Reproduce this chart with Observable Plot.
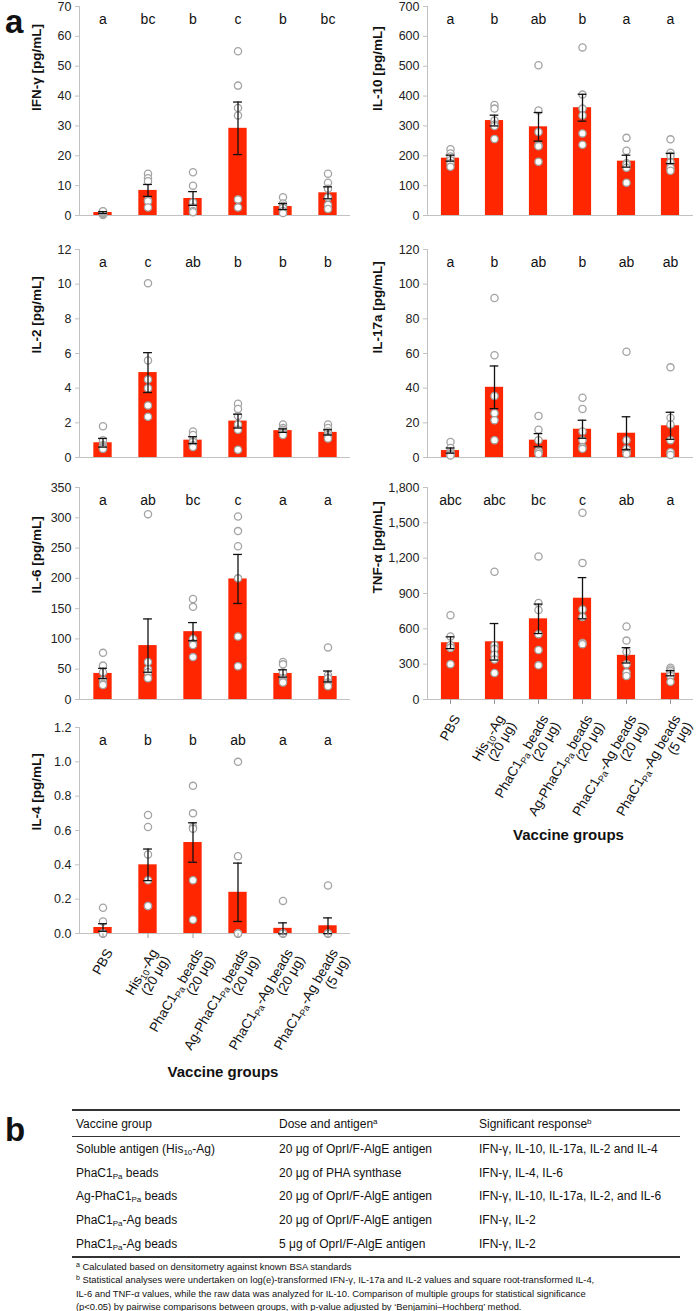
<!DOCTYPE html>
<html><head><meta charset="utf-8">
<script src="https://cdn.jsdelivr.net/npm/d3@7"></script>
<script src="https://cdn.jsdelivr.net/npm/@observablehq/plot@0.6"></script>
<style>
body{margin:0;background:#fff;font-family:"Liberation Sans",Arial,sans-serif;color:#111;}
#root{position:relative;width:697px;height:1311px;overflow:hidden;background:#fff;}
.panel{position:absolute;z-index:1;}
.big{position:absolute;z-index:5;font-weight:bold;font-size:33px;line-height:38px;height:38px;width:30px;}
#tbl{position:absolute;left:72px;top:1109px;width:608px;}
#tbl table{border-collapse:collapse;width:608px;font-size:12px;}
#tbl td{padding:0 0 0 4px;height:23.8px;vertical-align:middle;white-space:nowrap;}
#tbl tr.hd td{height:25px;border-top:2px solid #333;border-bottom:1px solid #333;}
#tbl tr.last td{border-bottom:2px solid #333;}
#tbl sub{font-size:8px;vertical-align:-2px;line-height:0;}
#tbl sup{font-size:8px;vertical-align:4px;line-height:0;}
#fn{font-size:9.4px;line-height:13.3px;padding:2px 0 0 4px;}
#fn sup{font-size:7px;vertical-align:3px;line-height:0;}
</style></head><body><div id="root"></div>
<script>
// ---- categories ----
const groups = ["PBS", "His_{10}-Ag\n(20 μg)", "PhaC1_{Pa} beads\n(20 μg)", "Ag-PhaC1_{Pa} beads\n(20 μg)", "PhaC1_{Pa}-Ag beads\n(20 μg)", "PhaC1_{Pa}-Ag beads\n(5 μg)"];
const panelLabels = ["a", "b"];

// ---- IFN-γ ----
const ifnLetters = ["a", "bc", "b", "c", "b", "bc"];
const ifnMean = [1.0, 8.4, 5.7, 29.2, 3.0, 7.6];
const ifnSem = [0.3, 2.0, 2.3, 8.8, 1.0, 2.0];
const ifnPoints = [[0.2, 0.5, 0.8, 1.0, 1.3, 1.4], [14, 12.5, 11.5, 5, 4.8, 2.7], [14.5, 10, 4.4, 2.7, 1.5, 1.1], [55, 43.5, 36, 33.5, 5.4, 2.7], [6.1, 4.0, 3.3, 2.5, 1.5, 0.8], [14, 11, 9, 6, 3.5, 2.2]];
const ifnTicks = [0, 10, 20, 30, 40, 50, 60, 70];

// ---- IL-10 ----
const il10Letters = ["a", "b", "ab", "b", "a", "a"];
const il10Mean = [192, 318, 297, 361, 182, 191];
const il10Sem = [10, 18, 48, 45, 20, 17];
const il10Points = [[222, 208, 198, 185, 175, 163], [370, 358, 318, 305, 300, 256], [503, 352, 280, 235, 232, 180], [563, 405, 358, 335, 275, 237], [260, 217, 175, 170, 160, 110], [255, 210, 200, 178, 160, 150]];
const il10Ticks = [0, 100, 200, 300, 400, 500, 600, 700];

// ---- IL-2 ----
const il2Letters = ["a", "c", "ab", "b", "b", "b"];
const il2Mean = [0.85, 4.9, 1.0, 2.1, 1.55, 1.45];
const il2Sem = [0.25, 1.15, 0.2, 0.4, 0.1, 0.15];
const il2Points = [[1.8, 1.0, 0.7, 0.6, 0.5, 0.5], [10.05, 5.6, 4.5, 4.0, 3.0, 2.35], [1.5, 1.3, 1.0, 0.9, 0.7, 0.6], [3.1, 2.8, 2.4, 1.9, 1.6, 0.45], [1.9, 1.7, 1.6, 1.5, 1.4, 1.3], [1.9, 1.7, 1.5, 1.3, 1.2, 1.1]];
const il2Ticks = [0, 2, 4, 6, 8, 10, 12];

// ---- IL-17a ----
const il17Letters = ["a", "b", "ab", "b", "ab", "ab"];
const il17Mean = [4, 40.5, 10, 16.3, 14, 18.3];
const il17Sem = [1.5, 12.3, 3.8, 5.2, 9.5, 7.8];
const il17Points = [[9, 5.5, 3, 2, 1.5, 1.2], [92, 59, 35.5, 25.5, 21.5, 10], [24, 16, 10, 4, 3, 2], [34.5, 28, 15, 10, 6, 5], [61, 10, 5, 3, 3, 2], [52, 23, 19, 10, 3, 1.5]];
const il17Ticks = [0, 20, 40, 60, 80, 100, 120];

// ---- IL-6 ----
const il6Letters = ["a", "ab", "bc", "c", "a", "a"];
const il6Mean = [43, 89, 112, 199, 43, 38];
const il6Sem = [8.5, 44, 15, 40.5, 6, 9];
const il6Points = [[77, 56, 45, 32, 26, 24], [306, 62, 50, 45, 36, 35], [166, 153, 100, 93, 90, 70], [302, 278, 253, 200, 104, 55], [62, 58, 45, 35, 30, 28], [86, 40, 35, 28, 25, 22]];
const il6Ticks = [0, 50, 100, 150, 200, 250, 300, 350];

// ---- TNF-α ----
const tnfLetters = ["abc", "abc", "bc", "c", "ab", "a"];
const tnfMean = [482, 490, 685, 860, 375, 223];
const tnfSem = [50, 155, 125, 175, 65, 22];
const tnfPoints = [[715, 535, 460, 440, 440, 300], [1085, 460, 430, 380, 340, 225], [1215, 820, 760, 555, 420, 290], [1585, 1160, 765, 700, 480, 470], [620, 500, 405, 300, 230, 200], [270, 255, 240, 220, 200, 150]];
const tnfTicks = [0, 300, 600, 900, 1200, 1500, 1800];

// ---- IL-4 ----
const il4Letters = ["a", "b", "b", "ab", "a", "a"];
const il4Mean = [0.035, 0.40, 0.53, 0.24, 0.03, 0.045];
const il4Sem = [0.022, 0.092, 0.115, 0.17, 0.032, 0.046];
const il4Points = [[0.15, 0.07, 0, 0, 0, 0], [0.69, 0.62, 0.46, 0.31, 0.16, 0.16], [0.86, 0.70, 0.62, 0.61, 0.31, 0.08], [1.0, 0.45, 0, 0, 0, 0], [0.19, 0, 0, 0, 0, 0], [0.28, 0, 0, 0, 0, 0]];
const il4Ticks = [0, 0.2, 0.4, 0.6, 0.8, 1, 1.2];

// ---- table (panel b) ----
const tableHeader = ["Vaccine group", "Dose and antigen^{a}", "Significant response^{b}"];
const tableGroups = ["Soluble antigen (His_{10}-Ag)", "PhaC1_{Pa} beads", "Ag-PhaC1_{Pa} beads", "PhaC1_{Pa}-Ag beads", "PhaC1_{Pa}-Ag beads"];
const tableDoses = ["20 μg of OprI/F-AlgE antigen", "20 μg of PHA synthase", "20 μg of OprI/F-AlgE antigen", "20 μg of OprI/F-AlgE antigen", "5 μg of OprI/F-AlgE antigen"];
const tableResponses = ["IFN-γ, IL-10, IL-17a, IL-2 and IL-4", "IFN-γ, IL-4, IL-6", "IFN-γ, IL-10, IL-17a, IL-2, and IL-6", "IFN-γ, IL-2", "IFN-γ, IL-2"];
const footnotes = [
  "^{a} Calculated based on densitometry against known BSA standards",
  "^{b} Statistical analyses were undertaken on log(e)-transformed IFN-γ, IL-17a and IL-2 values and square root-transformed IL-4,",
  "IL-6 and TNF-α values, while the raw data was analyzed for IL-10. Comparison of multiple groups for statistical significance",
  "(p<0.05) by pairwise comparisons between groups, with p-value adjusted by ‘Benjamini–Hochberg’ method."
];

const RED = "#ff2600";
const AXIS = "#c2c2c2";
const NS = "http://www.w3.org/2000/svg";

function subify(root) {
  root.querySelectorAll("text, tspan").forEach(el => {
    if (el.children.length) return;
    const s = el.textContent;
    if (!s.includes("_{")) return;
    el.textContent = "";
    let shifted = false;
    for (const part of s.split(/(_\{[^}]*\})/)) {
      if (!part) continue;
      const t = document.createElementNS(NS, "tspan");
      if (part.startsWith("_{")) {
        t.textContent = part.slice(2, -1);
        t.setAttribute("dy", "3");
        t.setAttribute("font-size", "0.68em");
        shifted = true;
      } else {
        t.textContent = part;
        if (shifted) { t.setAttribute("dy", "-3"); shifted = false; }
      }
      el.appendChild(t);
    }
  });
}

const panels = [
  {title: "IFN-γ [pg/mL]", letters: ifnLetters, mean: ifnMean, sem: ifnSem, points: ifnPoints, ticks: ifnTicks, col: 0, top: 0, plotH: 209},
  {title: "IL-10 [pg/mL]", letters: il10Letters, mean: il10Mean, sem: il10Sem, points: il10Points, ticks: il10Ticks, col: 1, top: 0, plotH: 209},
  {title: "IL-2 [pg/mL]", letters: il2Letters, mean: il2Mean, sem: il2Sem, points: il2Points, ticks: il2Ticks, col: 0, top: 243, plotH: 208},
  {title: "IL-17a [pg/mL]", letters: il17Letters, mean: il17Mean, sem: il17Sem, points: il17Points, ticks: il17Ticks, col: 1, top: 243, plotH: 208},
  {title: "IL-6 [pg/mL]", letters: il6Letters, mean: il6Mean, sem: il6Sem, points: il6Points, ticks: il6Ticks, col: 0, top: 481, plotH: 212},
  {title: "TNF-α [pg/mL]", letters: tnfLetters, mean: tnfMean, sem: tnfSem, points: tnfPoints, ticks: tnfTicks, col: 1, top: 481, plotH: 212, xLabels: true, vgDy: 140},
  {title: "IL-4 [pg/mL]", letters: il4Letters, mean: il4Mean, sem: il4Sem, points: il4Points, ticks: il4Ticks, col: 0, top: 721, plotH: 206, xLabels: true, vgDy: 143}
];

const cols = [
  {left: 0, width: 350, ml: 79, mr: 0, titleDx: 43},
  {left: 350, width: 347, ml: 77, mr: 4, titleDx: 50}
];

const root = document.getElementById("root");

for (const p of panels) {
  const c = cols[p.col];
  const data = groups.map((g, i) => ({g, mean: p.mean[i], sem: p.sem[i], letter: p.letters[i]}));
  const pts = groups.flatMap((g, i) => p.points[i].map(v => ({g, v})));
  const step = (c.width - c.ml - c.mr) / groups.length;
  const barInset = (step - 18.5) / 2;
  const capInset = (step - 9) / 2;
  const mb = p.xLabels ? 152 : 5;
  const ymax = p.ticks[p.ticks.length - 1];
  const marks = [
    Plot.frame({anchor: "left", stroke: AXIS}),
    Plot.axisY({ticks: p.ticks, tickSize: 4, tickPadding: 4, stroke: AXIS, label: null}),
    Plot.barY(data, {x: "g", y: "mean", fill: RED, insetLeft: barInset, insetRight: barInset}),
    Plot.ruleY([0], {stroke: AXIS, strokeWidth: 1.2}),
    Plot.dot(pts, {x: "g", y: "v", r: 3.6, fill: "white", stroke: "#a3a3a3", strokeWidth: 1.3}),
    Plot.ruleX(data, {x: "g", y1: d => d.mean - d.sem, y2: d => d.mean + d.sem, stroke: "#111", strokeWidth: 1.3}),
    Plot.tickY(data, {x: "g", y: d => d.mean + d.sem, insetLeft: capInset, insetRight: capInset, stroke: "#111", strokeWidth: 1.3}),
    Plot.tickY(data, {x: "g", y: d => d.mean - d.sem, insetLeft: capInset, insetRight: capInset, stroke: "#111", strokeWidth: 1.3}),
    Plot.text(data, {x: "g", text: "letter", frameAnchor: "top", dy: 8, fontSize: 14, fill: "#111"}),
    Plot.text([p.title], {text: d => d, frameAnchor: "left", rotate: -90, dx: -c.titleDx, fontWeight: "bold", fontSize: 13.5, fill: "#111"})
  ];
  if (p.xLabels) {
    marks.push(Plot.axisX({tickSize: 5, tickFormat: () => "", stroke: "#999", label: null}));
    marks.push(Plot.text(groups, {x: d => d, text: d => d, frameAnchor: "bottom", rotate: -60, textAnchor: "end", lineAnchor: "top", dy: 14, dx: 2, fontSize: 13.5, fill: "#111"}));
    marks.push(Plot.text(["Vaccine groups"], {text: d => d, frameAnchor: "bottom", dy: p.vgDy, dx: 8, fontWeight: "bold", fontSize: 15, fill: "#111"}));
  }
  const svg = Plot.plot({
    width: c.width,
    height: 6 + p.plotH + mb,
    marginTop: 6,
    marginBottom: mb,
    marginLeft: c.ml,
    marginRight: c.mr,
    x: {domain: groups, padding: 0, axis: null},
    y: {domain: [0, ymax]},
    style: {fontFamily: "'Liberation Sans', Arial, sans-serif", fontSize: "12.5px", color: "#222", background: "transparent", overflow: "visible"},
    marks
  });
  subify(svg);
  svg.classList.add("panel");
  svg.style.left = c.left + "px";
  svg.style.top = p.top + "px";
  svg.style.position = "absolute";
  root.appendChild(svg);
}

// ---- panel letters ----
[[panelLabels[0], 3], [panelLabels[1], 1111]].forEach(([t, top]) => {
  const d = document.createElement("div");
  d.className = "big";
  d.textContent = t;
  d.style.left = "5px";
  d.style.top = top + "px";
  root.appendChild(d);
});

// ---- table ----
function fmt(s) {
  return s.replace(/_\{([^}]*)\}/g, "<sub>$1</sub>").replace(/\^\{([^}]*)\}/g, "<sup>$1</sup>");
}
const tbl = document.createElement("div");
tbl.id = "tbl";
let html = "<table><tr class='hd'>" + tableHeader.map(h => `<td>${fmt(h)}</td>`).join("") + "</tr>";
tableGroups.forEach((g, i) => {
  html += `<tr${i === tableGroups.length - 1 ? " class='last'" : ""}><td style="width:199px">${fmt(g)}</td><td style="width:196px">${fmt(tableDoses[i])}</td><td>${fmt(tableResponses[i])}</td></tr>`;
});
html += "</table><div id='fn'>" + footnotes.map(fmt).join("<br>") + "</div>";
tbl.innerHTML = html;
root.appendChild(tbl);
</script></body></html>
